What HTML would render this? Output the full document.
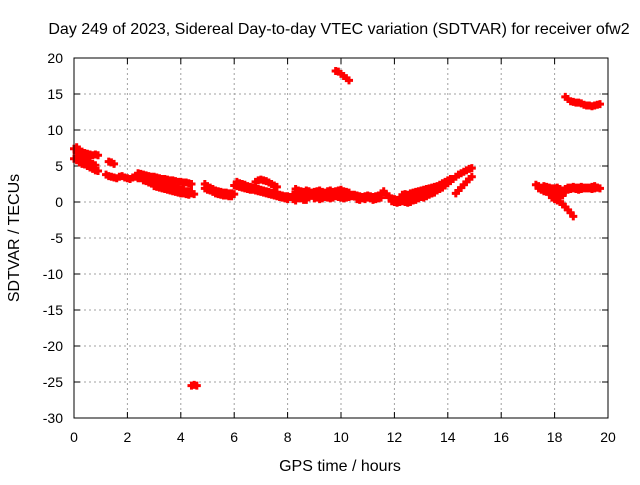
<!DOCTYPE html>
<html><head><meta charset="utf-8"><style>
body{margin:0;background:#fff;}
svg text{font-family:"Liberation Sans",sans-serif;font-size:12px;fill:#000;}
</style></head><body>
<svg id="chart" width="640" height="480" xmlns="http://www.w3.org/2000/svg">
<text x="339" y="34" text-anchor="middle" style="font-size:16px">Day 249 of 2023, Sidereal Day-to-day VTEC variation (SDTVAR) for receiver ofw2</text>
<g id="grid"></g><g id="ticks"></g><g id="marks"></g>
<rect x="74" y="58" width="534" height="360" fill="none" stroke="#000" stroke-width="1"/>
<text x="340" y="471" text-anchor="middle" style="font-size:16px">GPS time / hours</text>
<text transform="translate(19,238) rotate(-90)" text-anchor="middle" style="font-size:16px">SDTVAR / TECUs</text>
</svg>
<script>
const xTicks=[0,2,4,6,8,10,12,14,16,18,20];
const yTicks=[-30,-25,-20,-15,-10,-5,0,5,10,15,20];
const trackStart=[0,0,1.3,1.2,2.4,2.6,4.9,6.0,6.8,8.0,8.3,9.8,10.5,11.8,12.3,13.9,14.3,4.4,17.3,17.9,18.1,18.4,17.6,
0.1,2.4,3.0,4.9,6.1,8.2,9.0,10.6,11.9,12.5,17.4,18.3];
const trackValues=[
[7.4,7.6,7.3,7.0,6.8,6.7,6.6,6.5,6.6,6.5],
[6.0,5.8,5.5,5.3,5.2,5.0,4.8,4.6,4.4,4.3],
[5.6,5.5,5.3],
[3.8,3.6,3.5,3.4,3.3,3.5,3.6,3.4,3.3,3.2,3.4,3.5,3.3],
[4.0,3.9,3.8,3.7,3.6,3.5,3.5,3.4,3.3,3.2,3.2,3.1,3.0,3.0,2.9,2.8,2.8,2.7,2.7,2.6,2.5],
[3.0,2.9,2.7,2.6,2.5,2.4,2.3,2.2,2.1,2.0,1.9,1.8,1.7,1.6,1.5,1.4,1.3,1.2,1.2,1.1],
[2.5,2.2,2.0,1.8,1.6,1.5,1.4,1.3,1.3,1.2,1.2,1.1],
[2.3,2.2,2.1,2.0,1.9,1.8,1.7,1.7,1.6,1.5,1.4,1.3,1.2,1.1,1.0,0.9,0.8,0.7,0.6,0.5,0.4],
[2.8,3.0,3.1,3.0,2.9,2.7,2.5,2.3,2.1],
[0.8,0.7,1.0,1.2,0.9,0.5,0.3,0.6,0.8,1.0,1.1,1.0,0.9,1.0,1.2,1.0,0.9,1.1,1.3,1.0,0.8,1.0,1.2,1.1,1.0,0.9],
[1.8,1.6,1.5,1.4,1.6,1.5,1.3,1.4,1.5,1.6,1.4,1.3,1.5,1.6,1.4,1.5,1.6,1.7,1.5,1.4,1.3],
[18.2,18.1,17.8,17.5,17.2,16.9],
[1.0,0.9,0.8,0.7,0.8,0.9,0.8,0.7,0.8,0.9,1.2,1.5,1.0,0.8],
[0.6,0.5,0.4,0.3,0.3,0.4,0.5,0.4,0.3,0.4,0.6,0.8,0.7,0.6,0.8,1.0,1.2,1.3],
[1.0,1.1,1.0,1.2,1.3,1.4,1.5,1.6,1.7,1.8,1.9,2.0,2.1,2.2,2.4,2.6,2.8,3.0,3.2],
[2.3,2.6,2.9,3.2,3.5,3.8,4.0,4.2,4.4,4.6,4.7],
[1.2,1.6,2.0,2.4,2.8,3.2,3.5],
[-25.5,-25.4,-25.5],
[2.4,2.2,2.0,1.9,1.7,1.5,1.3,1.2,1.1,1.0,0.9],
[0.6,0.4,0.2,0,-0.3,-0.7,-1.1,-1.5,-2.0],
[1.2,1.4,1.6,1.8,2.0,2.0,2.1,2.0,2.0,2.1,2.0,1.9,2.0,2.1,2.2,2.0,1.9],
[14.6,14.3,14.0,13.9,13.8,13.8,13.7,13.5,13.4,13.4,13.3,13.4,13.5,13.6],
[2.2,2.1,2.0,1.9,1.9,2.0,1.8,1.6,1.4],
[6.8,6.5,6.2,6.0,5.7,5.5,5.3,5.1],
[3.4,3.3,3.2,3.0,2.9,2.8,2.7,2.6,2.5,2.4,2.3,2.2,2.1,2.0,1.9,1.8,1.7,1.6,1.5,1.5,1.4],
[2.2,2.1,2.0,1.9,1.8,1.7,1.6,1.5,1.4,1.3,1.2,1.2,1.1,1.0],
[1.9,1.7,1.6,1.4,1.2,1.1,1.0,0.9,0.9,0.8,0.8],
[2.8,2.6,2.5,2.4,2.2,2.1,2.0,1.9,1.8,1.7,1.6,1.5,1.4,1.3,1.2,1.1,1.0,0.9,0.8],
[0.4,0.2,0.5,0.8,0.6,0.3,0.7],
[0.5,0.6,0.4,0.5,0.7,0.6,0.5,0.6,0.8,0.7,0.6,0.5,0.6,0.7,0.8],
[0.4,0.3,0.5,0.4,0.6,0.5,0.3,0.4,0.5,0.6],
[0.1,0.0,-0.1,0.0,0.1,0.0,-0.1,0.0,0.2,0.3,0.5],
[0.3,0.4,0.5,0.6,0.7,0.8,0.9,1.0,1.1,1.2,1.4,1.6,1.8,2.0],
[1.9,1.7,1.5,1.4,1.3,1.2,1.1],
[1.5,1.6,1.7,1.8,1.9,1.8,1.7,1.8,1.9,2.0,1.9,1.8,1.9,2.0]
];
const sampleStep=0.1;
const X0=74,X1=608,Y0=418,Y1=58;
const sx=v=>X0+(v-0)/(20-0)*(X1-X0);
const sy=v=>Y0-(v+30)/(20+30)*(Y0-Y1);
const NS="http://www.w3.org/2000/svg";
function mk(tag,attrs,parent){const e=document.createElementNS(NS,tag);for(const k in attrs)e.setAttribute(k,attrs[k]);parent.appendChild(e);return e;}
const grid=document.getElementById('grid'),ticks=document.getElementById('ticks'),marks=document.getElementById('marks');
xTicks.forEach(t=>{const x=sx(t);
 if(t>0&&t<20){const g=mk('line',{x1:x,x2:x,y1:Y1,y2:Y0,stroke:'#a0a0a0','stroke-dasharray':'2,3'},grid);
 
 }
 const a=mk('line',{x1:x,x2:x,y1:Y0,y2:Y0-6,stroke:'#000'},ticks);
 
 
 const b=mk('line',{x1:x,x2:x,y1:Y1,y2:Y1+6,stroke:'#000'},ticks);
 
 
 const l=mk('text',{x:x,y:442,'text-anchor':'middle',style:'font-size:14px'},ticks);l.textContent=t;
 
 
});
yTicks.forEach(t=>{const y=sy(t);
 if(t>-30&&t<20){const g=mk('line',{x1:X0,x2:X1,y1:y,y2:y,stroke:'#a0a0a0','stroke-dasharray':'2,3'},grid);
 
 }
 const a=mk('line',{x1:X0,x2:X0+6,y1:y,y2:y,stroke:'#000'},ticks);
 
 
 const b=mk('line',{x1:X1,x2:X1-6,y1:y,y2:y,stroke:'#000'},ticks);
 
 
 const l=mk('text',{x:63,y:y+5,'text-anchor':'end',style:'font-size:14px'},ticks);l.textContent=t;
 
 
});
trackValues.forEach((vals,ti)=>{vals.forEach((v,i)=>{
 const x=sx(trackStart[ti]+i*sampleStep),y=sy(v);
 const p=mk('path',{d:`M${x-4},${y}H${x+4}M${x},${y-4}V${y+4}`,stroke:'#ff0000','stroke-width':3,fill:'none'},marks);
 
 
});});
</script>
</body></html>
